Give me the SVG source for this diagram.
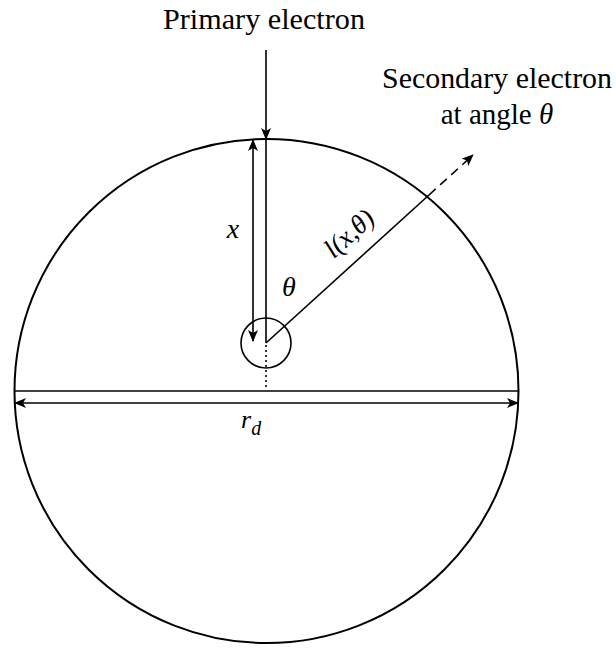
<svg xmlns="http://www.w3.org/2000/svg" width="616" height="648" viewBox="0 0 616 648">
<style>
text{font-family:"Liberation Serif","Times New Roman",serif;fill:#000}
.it{font-style:italic}
.ln{stroke:#000;stroke-width:1.6;fill:none}
.shape{stroke:#000;stroke-width:2;fill:none}
</style>
<defs>
<marker id="ah" viewBox="0 0 12 10" refX="11" refY="5" markerWidth="12" markerHeight="10" markerUnits="userSpaceOnUse" orient="auto-start-reverse">
<path d="M0,0 L12,5 L0,10 L3,5 Z" fill="#000"/>
</marker>
</defs>
<rect width="616" height="648" fill="#fff"/>
<g id="sphere"><circle class="shape" cx="266.5" cy="391" r="252"/></g>
<g id="origin"><circle class="ln" cx="266" cy="343" r="25"/></g>
<g id="connectors">
<line class="ln" x1="266" y1="50" x2="266" y2="139" marker-end="url(#ah)"/>
<line class="ln" x1="266" y1="139" x2="266" y2="343"/>
<line class="ln" x1="253" y1="140" x2="253" y2="341" marker-start="url(#ah)" marker-end="url(#ah)"/>
<line class="ln" x1="266" y1="345" x2="266" y2="390" stroke-dasharray="2 3"/>
<line class="ln" x1="15" y1="391" x2="518" y2="391"/>
<line class="ln" x1="15" y1="403" x2="518" y2="403" marker-start="url(#ah)" marker-end="url(#ah)"/>
<line class="ln" x1="266" y1="343" x2="429" y2="195"/>
<line class="ln" x1="429" y1="195" x2="473" y2="155" stroke-dasharray="9 6" marker-end="url(#ah)"/>
</g>
<g id="label-primary"><text x="264" y="29" font-size="29" text-anchor="middle" textLength="202" lengthAdjust="spacingAndGlyphs">Primary electron</text></g>
<g id="label-secondary">
<text x="497" y="88" font-size="29" text-anchor="middle" textLength="230" lengthAdjust="spacingAndGlyphs">Secondary electron</text>
<text x="497" y="124" font-size="29" text-anchor="middle">at angle <tspan class="it">θ</tspan></text>
</g>
<g id="label-x"><text class="it" x="233" y="238" font-size="28" text-anchor="middle">x</text></g>
<g id="label-theta"><text class="it" x="289" y="296" font-size="28" text-anchor="middle">θ</text></g>
<g id="label-l"><text class="it" x="0" y="0" font-size="27" text-anchor="middle" transform="translate(355,240) rotate(-42)">l(x,θ)</text></g>
<g id="label-rd"><text class="it" x="241" y="428" font-size="26">r<tspan font-size="20" dy="7">d</tspan></text></g>
</svg>
